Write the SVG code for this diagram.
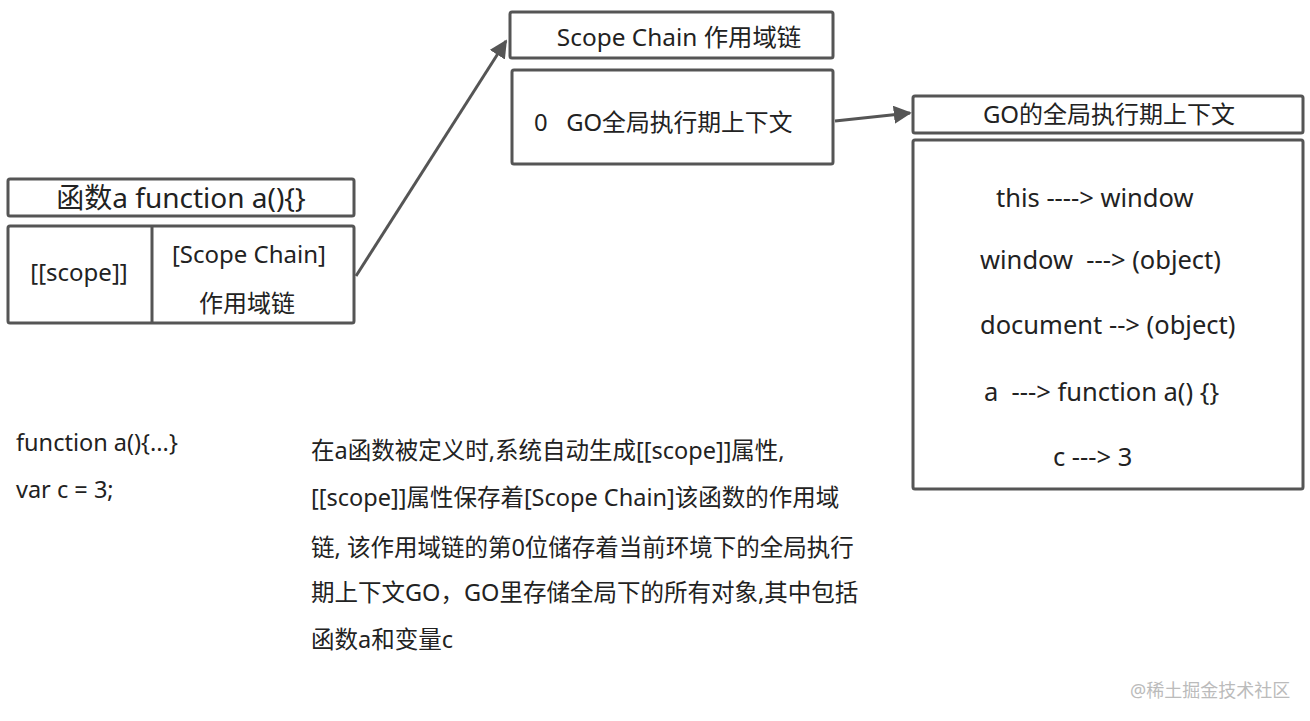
<svg xmlns="http://www.w3.org/2000/svg" width="1310" height="721" viewBox="0 0 1310 721">
<style>
.box{fill:#fff;stroke:#555;stroke-width:3;}
.t{font-family:"Noto Sans","Noto Sans CJK SC",sans-serif;fill:#222;}
.edge{stroke:#555;stroke-width:3;fill:none;}
</style>
<defs>
<marker id="ah" viewBox="0 0 10 10" refX="9" refY="5" markerWidth="6" markerHeight="6" markerUnits="strokeWidth" orient="auto">
<path d="M0,0 L10,5 L0,10 z" fill="#555"/>
</marker>
</defs>
<rect width="1310" height="721" fill="#fff"/>
<g id="connectors">
<line class="edge" x1="356" y1="276" x2="506" y2="41" marker-end="url(#ah)"/>
<line class="edge" x1="835" y1="121" x2="910" y2="113" marker-end="url(#ah)"/>
</g>
<g id="func-title">
<rect class="box" x="8" y="179" width="346" height="37" rx="2"/>
<text class="t" x="181" y="208" font-size="28" text-anchor="middle">函数a function a(){}</text>
</g>
<g id="func-body">
<rect class="box" x="8" y="226" width="346" height="97" rx="2"/>
<line class="edge" x1="152" y1="226" x2="152" y2="323"/>
<text class="t" x="79" y="281" font-size="24" text-anchor="middle">[[scope]]</text>
<text class="t" x="249" y="263" font-size="24" text-anchor="middle">[Scope Chain]</text>
<text class="t" x="247" y="312" font-size="24" text-anchor="middle">作用域链</text>
</g>
<g id="scope-chain-title">
<rect class="box" x="510" y="12" width="323" height="46" rx="2"/>
<text class="t" x="679" y="46" font-size="24.4" text-anchor="middle">Scope Chain 作用域链</text>
</g>
<g id="scope-chain-body">
<rect class="box" x="512" y="70" width="321" height="94" rx="2"/>
<text class="t" x="534" y="131" font-size="23.8" xml:space="preserve">0   GO全局执行期上下文</text>
</g>
<g id="go-title">
<rect class="box" x="913" y="96" width="390" height="37" rx="2"/>
<text class="t" x="1109" y="123" font-size="24" text-anchor="middle">GO的全局执行期上下文</text>
</g>
<g id="go-body">
<rect class="box" x="913" y="140" width="390" height="349" rx="2"/>
<text class="t" x="996" y="207" font-size="25.5">this ----&gt; window</text>
<text class="t" x="980" y="269" font-size="25.5" xml:space="preserve">window  ---&gt; (object)</text>
<text class="t" x="980" y="334" font-size="25.5">document --&gt; (object)</text>
<text class="t" x="984" y="401" font-size="25.5" xml:space="preserve">a  ---&gt; function a() {}</text>
<text class="t" x="1053" y="466" font-size="25.5">c ---&gt; 3</text>
</g>
<g id="code">
<text class="t" x="16" y="451" font-size="23.5">function a(){...}</text>
<text class="t" x="16" y="498" font-size="23.5">var c = 3;</text>
</g>
<g id="explanation">
<text class="t" x="311" y="459" font-size="23.5">在a函数被定义时,系统自动生成[[scope]]属性,</text>
<text class="t" x="311" y="506" font-size="23.5">[[scope]]属性保存着[Scope Chain]该函数的作用域</text>
<text class="t" x="311" y="556" font-size="23.5">链, 该作用域链的第0位储存着当前环境下的全局执行</text>
<text class="t" x="311" y="601" font-size="23.5">期上下文GO，GO里存储全局下的所有对象,其中包括</text>
<text class="t" x="311" y="648" font-size="23.5">函数a和变量c</text>
</g>
<text x="1130" y="697" font-size="18" font-family="Noto Sans,Noto Sans CJK SC,sans-serif" fill="#bbb">@稀土掘金技术社区</text>
</svg>
